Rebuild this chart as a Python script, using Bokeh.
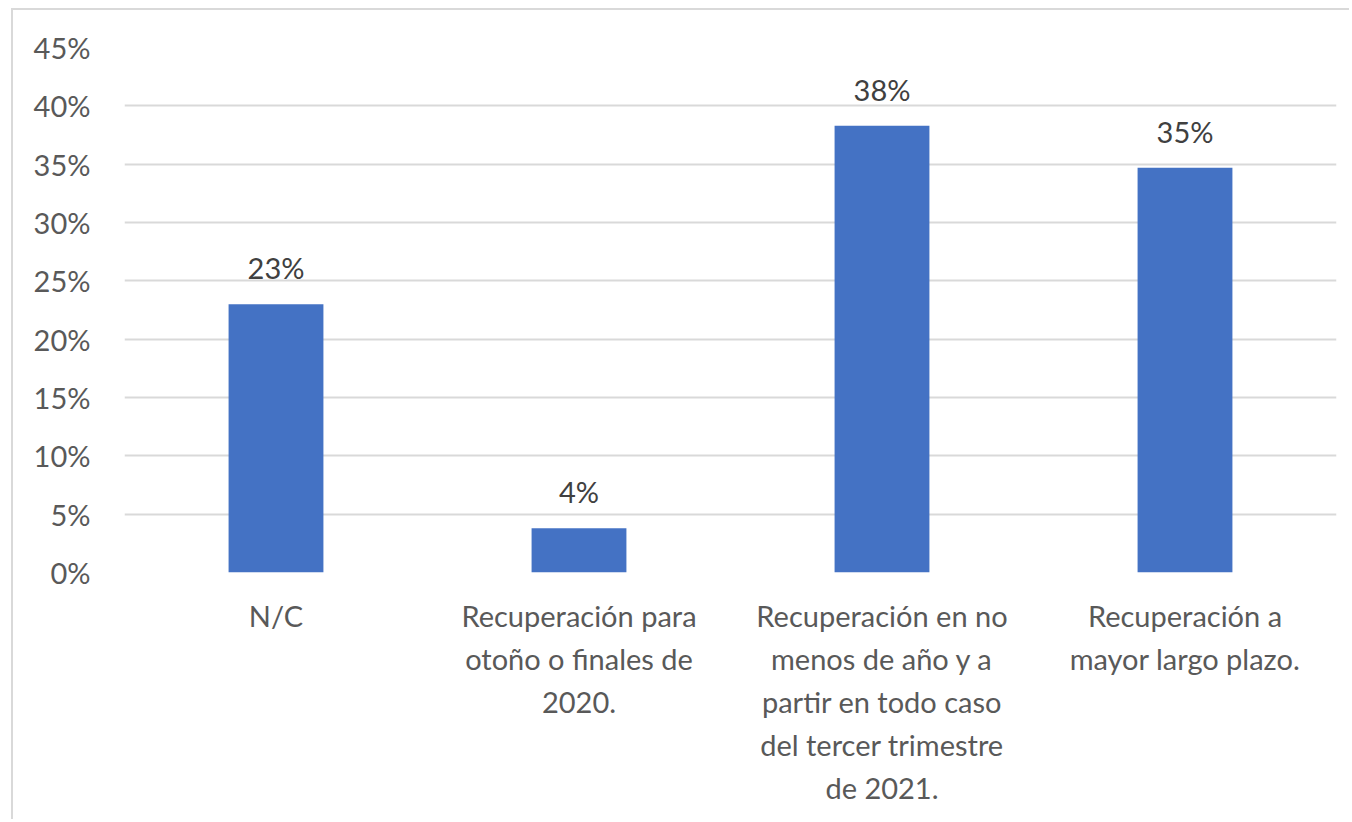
from bokeh.plotting import figure
from bokeh.models import Range1d, PrintfTickFormatter, ColumnDataSource, FixedTicker
from bokeh.core.properties import value
from bokeh.embed import file_html
from bokeh.resources import INLINE

categories = [
    "N/C",
    "Recuperación para\notoño o finales de\n2020.",
    "Recuperación en no\nmenos de año y a\npartir en todo caso\ndel tercer trimestre\nde 2021.",
    "Recuperación a\nmayor largo plazo.",
]
values = [23.0, 3.8, 38.3, 34.7]
y_ticks = [0, 5, 10, 15, 20, 25, 30, 35, 40, 45]

labels = [f"{round(v)}%" for v in values]
src = ColumnDataSource(dict(cat=categories, val=values, lab=labels))

FONT = "Lato"

p = figure(
    x_range=categories,
    y_range=Range1d(0, 45),
    width=1338, height=811,
    output_backend="svg", toolbar_location=None,
    min_border_left=111, min_border_right=15,
    min_border_top=37, min_border_bottom=249,
    styles={"border-left": "2px solid #d9d9d9", "border-top": "2px solid #d9d9d9",
            "margin-left": "11px", "margin-top": "8px"},
)
p.outline_line_color = None
p.background_fill_color = "white"
p.border_fill_color = "white"

p.vbar(x="cat", top="val", width=0.313, source=src, fill_color="#4472C4", line_color=None)
p.text(x="cat", y="val", text="lab", source=src, y_offset=-19,
       text_align="center", text_baseline="bottom",
       text_font=value(FONT), text_font_size="29px", text_color="#404040")

p.xgrid.grid_line_color = None
p.ygrid.grid_line_color = "#d9d9d9"
p.ygrid.grid_line_width = 2

p.yaxis.ticker = FixedTicker(ticks=y_ticks)
p.yaxis.formatter = PrintfTickFormatter(format="%d%%")
p.yaxis.axis_line_color = None
p.yaxis.major_tick_line_color = None
p.yaxis.minor_tick_line_color = None
p.yaxis.major_label_text_font = FONT
p.yaxis.major_label_text_font_size = "29px"
p.yaxis.major_label_text_color = "#595959"
p.yaxis.major_label_standoff = 28

p.xaxis.axis_line_color = None
p.xaxis.major_tick_line_color = None
p.xaxis.minor_tick_line_color = None
p.xaxis.major_label_text_font = FONT
p.xaxis.major_label_text_font_size = "29px"
p.xaxis.major_label_text_color = "#595959"
p.xaxis.major_label_text_line_height = 1.23
p.xaxis.major_label_standoff = 19
p.xaxis.major_label_orientation = "horizontal"

open("out.html", "w").write(file_html(p, INLINE))
